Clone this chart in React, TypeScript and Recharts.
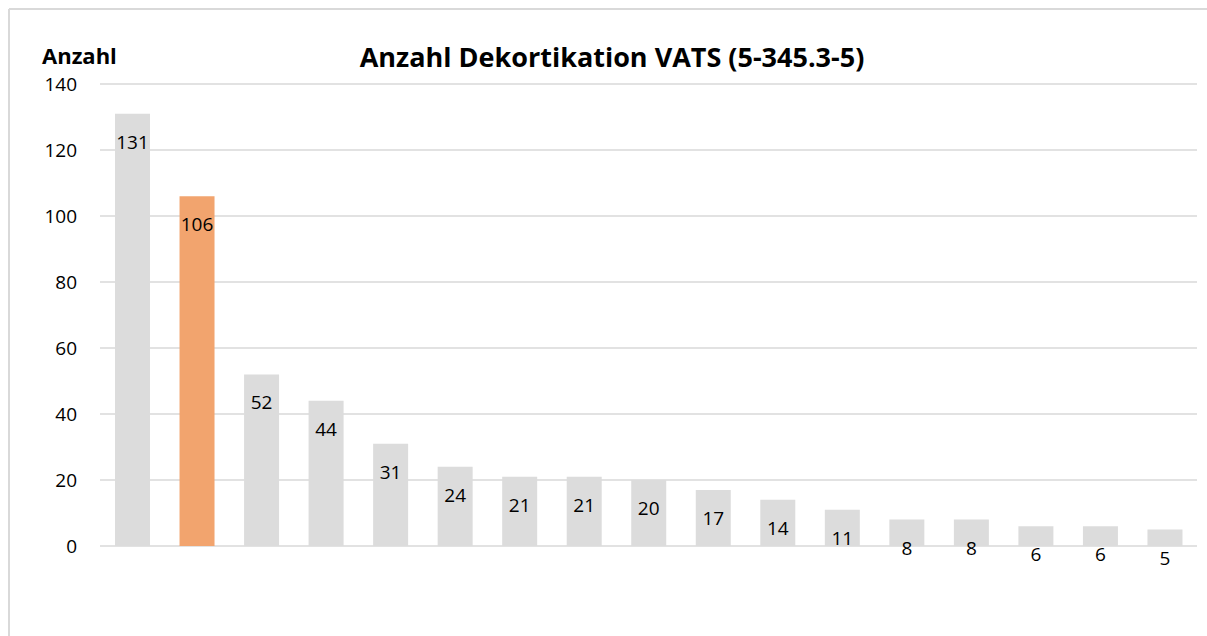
import { BarChart, Bar, XAxis, YAxis, CartesianGrid, Cell, LabelList } from 'recharts';

const categories = ['1', '2', '3', '4', '5', '6', '7', '8', '9', '10', '11', '12', '13', '14', '15', '16', '17'];
const counts = [131, 106, 52, 44, 31, 24, 21, 21, 20, 17, 14, 11, 8, 8, 6, 6, 5];
const highlighted = [false, true, false, false, false, false, false, false, false, false, false, false, false, false, false, false, false];
const yTicks = [0, 20, 40, 60, 80, 100, 120, 140];

const data = categories.map((c, i) => ({ name: c, value: counts[i], hl: highlighted[i] }));

const FONT = '"Open Sans", Lato, sans-serif';

const ValueLabel = (props: any) => {
  const { x, y, width, value } = props;
  return (
    <text
      x={x + width / 2}
      y={y + 28}
      textAnchor="middle"
      dominantBaseline="central"
      fontSize={19}
      fontFamily={FONT}
      fill="#000"
    >
      {value}
    </text>
  );
};

export default function App() {
  return (
    <div style={{ position: 'absolute', left: 0, top: 0, width: 1207, height: 636, overflow: 'hidden', background: '#fff', fontFamily: FONT }}>
      <div style={{ position: 'absolute', left: 0, width: 1224, top: 41, lineHeight: '32px', textAlign: 'center', fontSize: 27, fontWeight: 700, color: '#000' }}>
        Anzahl Dekortikation VATS (5-345.3-5)
      </div>
      <div style={{ position: 'absolute', left: 42, top: 41, lineHeight: '28px', fontSize: 22, fontWeight: 700, color: '#000' }}>Anzahl</div>
      <div style={{ position: 'absolute', left: 0, top: 0 }}>
        <BarChart width={1207} height={636} data={data} margin={{ top: 84, right: 10, bottom: 90, left: 40 }} barSize={35}>
          {/* chart frame: only left and top edges fall inside the picture */}
          <line x1={9} y1={9} x2={1207} y2={9} stroke="#d9d9d9" strokeWidth={2} />
          <line x1={9} y1={9} x2={9} y2={636} stroke="#d9d9d9" strokeWidth={2} />
          <CartesianGrid vertical={false} stroke="#d9d9d9" strokeWidth={1.5} />
          <XAxis dataKey="name" hide />
          <YAxis
            width={60}
            domain={[0, 140]}
            ticks={yTicks}
            axisLine={false}
            tickLine={false}
            tickMargin={17}
            tick={{ fontSize: 19, fill: '#000', fontFamily: FONT }}
          />
          <Bar dataKey="value" isAnimationActive={false}>
            {data.map((d, i) => (
              <Cell key={i} fill={d.hl ? '#f2a46e' : '#dcdcdc'} />
            ))}
            <LabelList dataKey="value" content={ValueLabel} />
          </Bar>
        </BarChart>
      </div>
    </div>
  );
}
